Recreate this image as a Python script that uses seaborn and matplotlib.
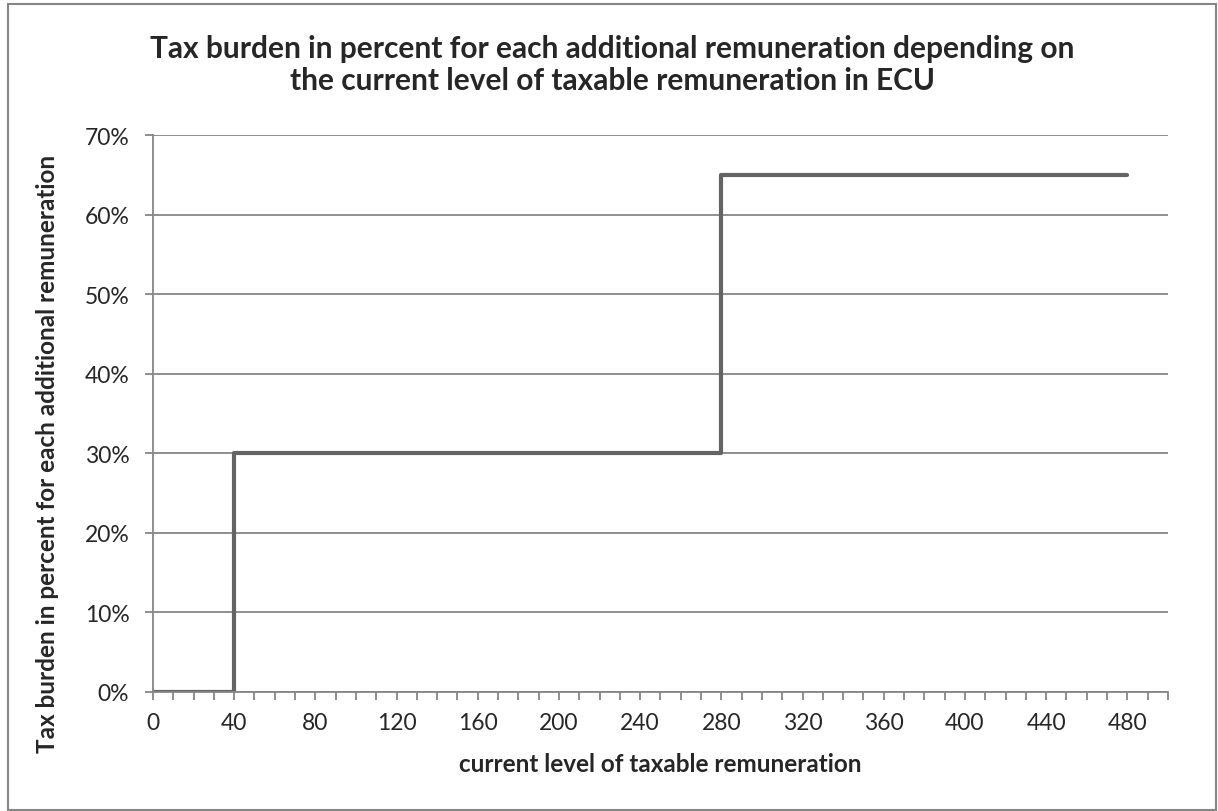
import numpy as np
import pandas as pd
import matplotlib.pyplot as plt
import matplotlib.ticker as mticker
import seaborn as sns

# step points of the tax schedule
remuneration = [0, 40, 40, 280, 280, 480]
tax_rate = [0.0, 0.0, 0.30, 0.30, 0.65, 0.65]

x_ticks = [0, 40, 80, 120, 160, 200, 240, 280, 320, 360, 400, 440, 480]
y_ticks = [0.0, 0.1, 0.2, 0.3, 0.4, 0.5, 0.6, 0.7]

df = pd.DataFrame({"remuneration": remuneration, "tax_rate": tax_rate})

sns.set_theme(style="white")
plt.rcParams["font.family"] = ["Lato", "DejaVu Sans"]

GRIS = "#868686"

fig = plt.figure(figsize=(12.18, 8.12), dpi=100)
ax = fig.add_axes([0.1256, 0.1466, 0.8333, 0.6859])

sns.lineplot(data=df, x="remuneration", y="tax_rate", sort=False,
             estimator=None, color="#646464", linewidth=3.0, ax=ax,
             solid_capstyle="round", solid_joinstyle="round")

ax.set_xlim(0, 500)
ax.set_ylim(0, 0.7)
ax.set_xticks(x_ticks)
ax.xaxis.set_minor_locator(mticker.MultipleLocator(10))
ax.set_yticks(y_ticks)
ax.yaxis.set_major_formatter(mticker.PercentFormatter(1.0, decimals=0))

ax.grid(axis="y", color=GRIS, linewidth=1.3)
ax.set_axisbelow(True)
for s in ["top", "right"]:
    ax.spines[s].set_visible(False)
for s in ["left", "bottom"]:
    ax.spines[s].set_color(GRIS)
    ax.spines[s].set_linewidth(1.3)

ax.tick_params(axis="x", which="both", direction="out", color=GRIS, width=1.3,
               bottom=True, length=5.5, labelsize=16.5, pad=9)
ax.tick_params(axis="y", which="major", direction="out", color=GRIS, width=1.3,
               left=True, length=6, labelsize=16.5, pad=11)

ax.set_xlabel("current level of taxable remuneration", fontsize=17.5,
              fontweight="bold")
ax.xaxis.set_label_coords(0.5, -0.108)
ax.set_ylabel("Tax burden in percent for each additional remuneration",
              fontsize=17.5, fontweight="bold")
ax.yaxis.set_label_coords(-0.093, 0.43)

fig.text(612 / 1218, 1 - 65 / 812,
         "Tax burden in percent for each additional remuneration depending on\n"
         "the current level of taxable remuneration in ECU",
         ha="center", va="center", fontsize=21.5, fontweight="bold",
         linespacing=1.2)

# chart area border
fig.patches.append(plt.Rectangle((0.0066, 0.0012), 0.9918, 0.9926,
                                 transform=fig.transFigure, fill=False,
                                 edgecolor=GRIS, linewidth=1.5))

plt.savefig("out.png", dpi=100)
plt.close()
